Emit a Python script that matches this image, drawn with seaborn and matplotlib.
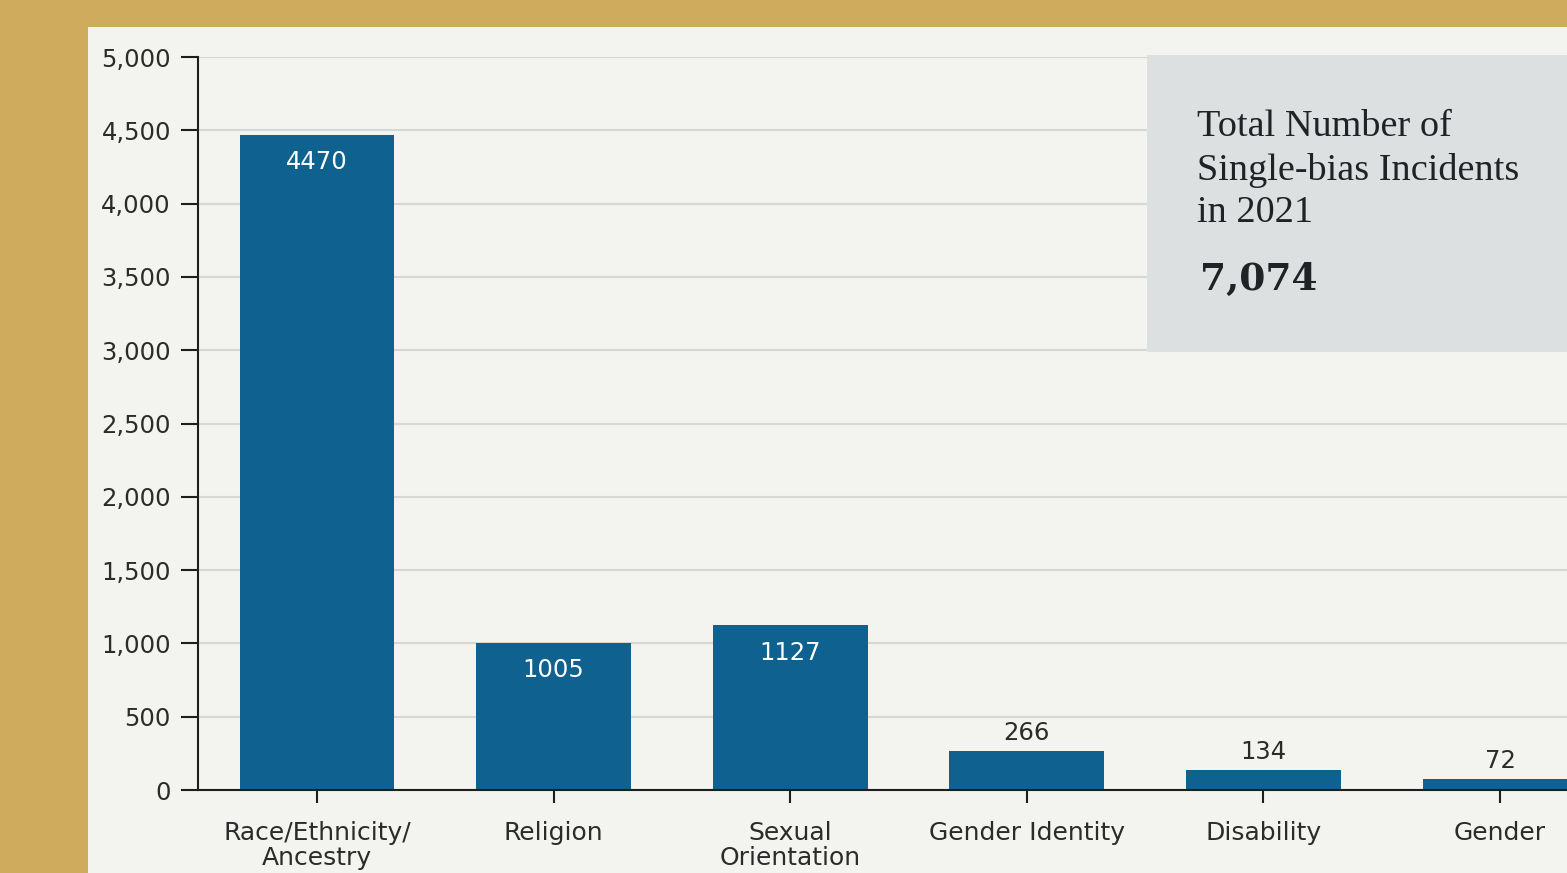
import matplotlib.pyplot as plt
import seaborn as sns
import pandas as pd

# Datos
categorias = ["Race/Ethnicity/\nAncestry", "Religion", "Sexual\nOrientation",
              "Gender Identity", "Disability", "Gender"]
incidentes = [4470, 1005, 1127, 266, 134, 72]
etiquetas_y = ["0", "500", "1,000", "1,500", "2,000", "2,500",
               "3,000", "3,500", "4,000", "4,500", "5,000"]
valores_y = [0, 500, 1000, 1500, 2000, 2500, 3000, 3500, 4000, 4500, 5000]
total_texto = "Total Number of\nSingle-bias Incidents\nin 2021"
total_valor = "7,074"

df = pd.DataFrame({"categoria": categorias, "incidentes": incidentes})

W, H = 1567, 873
azul = "#0f628f"
texto = "#2b2b2b"

fig = plt.figure(figsize=(W / 100, H / 100), dpi=100)
fig.patch.set_facecolor("#cfab5e")

# Panel claro (debajo de los ejes)
fig.patches.append(plt.Rectangle((88 / W, 0), 1 - 88 / W, (H - 27) / H,
                                 transform=fig.transFigure, facecolor="#f3f4ef",
                                 edgecolor="none", zorder=-1))

ax = fig.add_axes([198 / W, (H - 790) / H, (W - 198) / W, 733 / H])
ax.set_facecolor("none")

sns.barplot(data=df, x="categoria", y="incidentes", color=azul,
            width=0.655, saturation=1, ax=ax, zorder=2)

ax.set_xlim(-0.503, (W - 317) / 236.6)
ax.set_ylim(0, 5000)
ax.set_yticks(valores_y)
ax.set_yticklabels(etiquetas_y)
ax.set_xlabel("")
ax.set_ylabel("")

# Cuadricula
ax.grid(True, axis="y", color="#d6d8d4", linewidth=1.5, zorder=0)
ax.set_axisbelow(True)
for s in ["top", "right"]:
    ax.spines[s].set_visible(False)
for s in ["left", "bottom"]:
    ax.spines[s].set_color("#1e1e1e")
    ax.spines[s].set_linewidth(1.5)

ax.tick_params(axis="y", length=12, width=1.5, color="#1e1e1e",
               labelsize=17.5, labelcolor=texto, pad=7.5)
ax.tick_params(axis="x", length=9, width=1.5, color="#1e1e1e",
               labelsize=18, labelcolor=texto, pad=13)
for lbl in ax.get_xticklabels():
    lbl.set_linespacing(1.05)

# Anotaciones en cada barra
for i, v in enumerate(incidentes):
    if v > 500:
        ax.annotate(f"{v}", (i, v), xytext=(0, -20), textcoords="offset points",
                    ha="center", va="center", color="white", fontsize=17.5, zorder=3)
    else:
        ax.annotate(f"{v}", (i, v), xytext=(0, 13), textcoords="offset points",
                    ha="center", va="center", color=texto, fontsize=17.5, zorder=3)

# Recuadro del total
fig.patches.append(plt.Rectangle((1147 / W, (H - 352) / H), (W - 1147) / W, 297 / H,
                                 transform=fig.transFigure, facecolor="#dce0e0",
                                 edgecolor="none", zorder=5))
fig.text(1197 / W, (H - 110) / H, total_texto, fontsize=27.5, family="Liberation Serif",
         color="#1f2326", va="top", ha="left", linespacing=1.3, zorder=6)
fig.text(1200 / W, (H - 279) / H, total_valor, fontsize=27, family="DejaVu Serif",
         fontweight="bold", color="#1f2326", va="center", ha="left", zorder=6)

plt.savefig("out.png", dpi=100, facecolor=fig.get_facecolor())
plt.close()
